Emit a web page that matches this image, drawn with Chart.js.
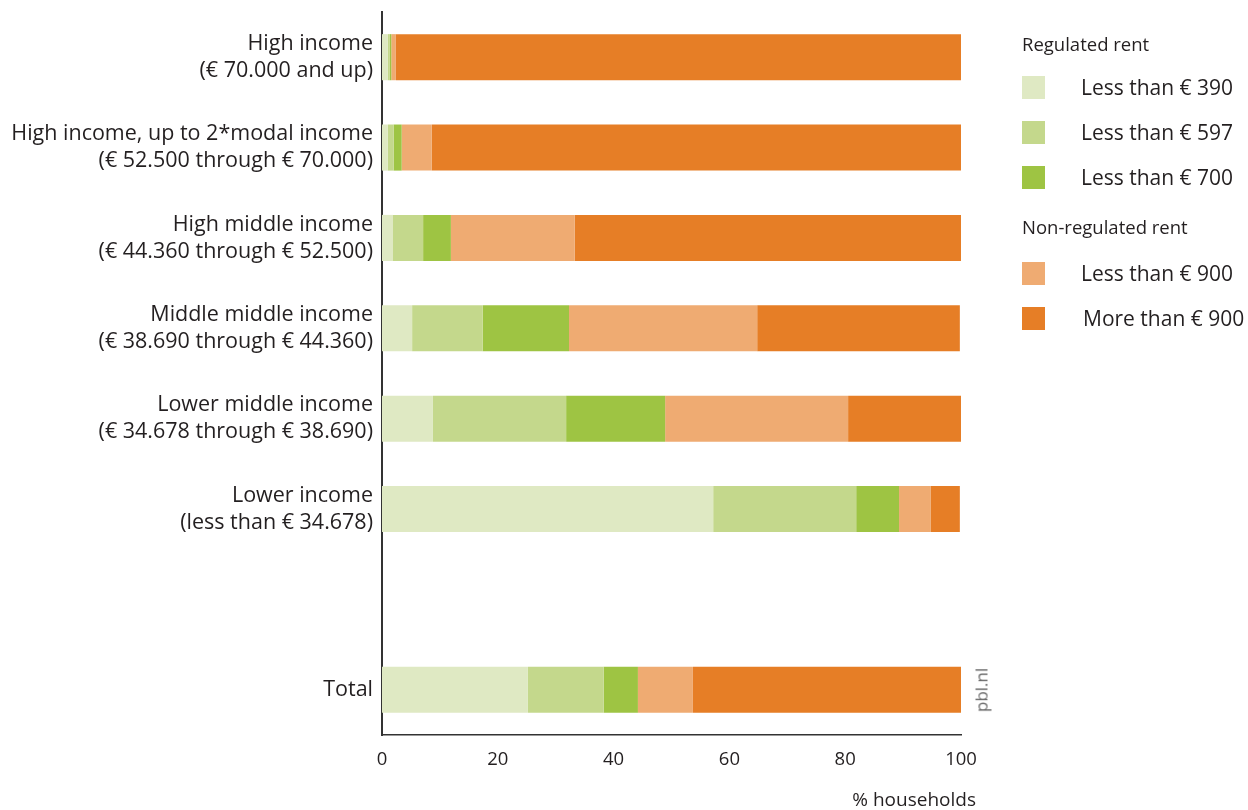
<!DOCTYPE html>
<html>
<head>
<meta charset="utf-8">
<script src="https://cdn.jsdelivr.net/npm/chart.js@4"></script>
<style>
  html, body { margin:0; padding:0; background:#fff; }
  #wrap { position:relative; width:1248px; height:810px; font-family:"Open Sans", sans-serif; color:#231f20; }
  canvas { position:absolute; left:0; top:0; }
  .lg { position:absolute; white-space:nowrap; }
  .hd { font-size:18.5px; left:1022px; }
  .sw { position:absolute; left:1022px; width:23px; height:23px; }
  .it { font-size:21px; left:1081px; }
  #xt { position:absolute; font-size:19px; right:272px; top:786px; white-space:nowrap; }
  #pbl { position:absolute; font-size:17px; color:#666; left:981px; top:690px; transform:translate(-50%,-50%) rotate(-90deg); white-space:nowrap; }
</style>
</head>
<body>
<div id="wrap">
  <canvas id="c" width="1248" height="810"></canvas>
  <div id="legend"></div>
  <div id="xt">% households</div>
  <div id="pbl">pbl.nl</div>
</div>
<script>
const categories = [
  ["High income", "(€ 70.000 and up)"],
  ["High income, up to 2*modal income", "(€ 52.500 through € 70.000)"],
  ["High middle income", "(€ 44.360 through € 52.500)"],
  ["Middle middle income", "(€ 38.690 through € 44.360)"],
  ["Lower middle income", "(€ 34.678 through € 38.690)"],
  ["Lower income", "(less than € 34.678)"],
  "",
  "Total"
];
const seriesNames = ["Less than € 390", "Less than € 597", "Less than € 700", "Less than € 900", "More than € 900"];
const less390 = [1.0, 1.0, 1.9, 5.2, 8.8, 57.2, null, 25.2];
const less597 = [0.3, 1.0, 5.2, 12.2, 23.0, 24.7, null, 13.1];
const less700 = [0.3, 1.4, 4.8, 14.9, 17.1, 7.4, null, 5.9];
const less900 = [0.8, 5.2, 21.4, 32.5, 31.6, 5.5, null, 9.5];
const more900 = [97.6, 91.4, 66.7, 35.0, 19.5, 5.0, null, 46.3];
const xTicks = [0, 20, 40, 60, 80, 100];
const groupNames = ["Regulated rent", "Non-regulated rent"];

const colors = ["#dfe9c3", "#c4d88c", "#9ec443", "#efab72", "#e67e26"];
const values = [less390, less597, less700, less900, more900];

const datasets = values.map((d, i) => ({
  label: seriesNames[i],
  data: d,
  backgroundColor: colors[i],
  borderWidth: 0,
  barPercentage: 0.51,
  categoryPercentage: 1.0
}));

new Chart(document.getElementById('c'), {
  type: 'bar',
  data: { labels: categories, datasets },
  options: {
    indexAxis: 'y',
    responsive: false,
    animation: false,
    layout: { padding: { top: 12, right: 287, left: 0, bottom: 0 } },
    plugins: { legend: { display: false }, tooltip: { enabled: false } },
    scales: {
      x: {
        stacked: true,
        min: 0, max: 100,
        afterBuildTicks: s => { s.ticks = xTicks.map(v => ({ value: v })); },
        grid: { display: false, drawTicks: false },
        border: { display: true, color: '#333', width: 1.5 },
        ticks: { color: '#231f20', font: { family: 'Open Sans', size: 18.5 }, padding: 14, maxRotation: 0 },
        afterFit: s => { s.height = 75; s.paddingLeft = 0; s.paddingRight = 0; }
      },
      y: {
        stacked: true,
        grid: { display: false, drawTicks: false },
        border: { display: true, color: '#333', width: 2 },
        ticks: { color: '#231f20', font: { family: 'Open Sans', size: 21.5, lineHeight: 1.26 }, padding: 9, autoSkip: false },
        afterFit: s => { s.width = 382; s.paddingTop = 0; s.paddingBottom = 0; }
      }
    }
  }
});

// HTML legend
const lg = document.getElementById('legend');
const rows = [
  { t: 'h', text: groupNames[0], y: 44 },
  { t: 'i', i: 0, y: 88 },
  { t: 'i', i: 1, y: 133 },
  { t: 'i', i: 2, y: 178 },
  { t: 'h', text: groupNames[1], y: 227 },
  { t: 'i', i: 3, y: 274 },
  { t: 'i', i: 4, y: 319 }
];
rows.forEach(r => {
  if (r.t === 'h') {
    const d = document.createElement('div');
    d.className = 'lg hd'; d.textContent = r.text;
    d.style.top = (r.y - 13) + 'px';
    lg.appendChild(d);
  } else {
    const s = document.createElement('div');
    s.className = 'sw'; s.style.background = colors[r.i];
    s.style.top = (r.y - 12) + 'px';
    lg.appendChild(s);
    const d = document.createElement('div');
    d.className = 'lg it'; d.textContent = seriesNames[r.i];
    d.style.top = (r.y - 15) + 'px';
    if (r.i === 4) d.style.left = '1083px';
    lg.appendChild(d);
  }
});
</script>
</body>
</html>
